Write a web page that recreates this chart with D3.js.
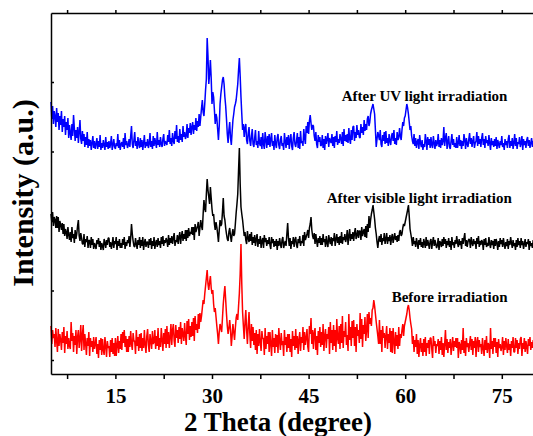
<!DOCTYPE html>
<html lang="en">
<head>
<meta charset="utf-8">
<title>XRD patterns before and after irradiation</title>
<script src="https://d3js.org/d3.v7.min.js"></script>
<style>
  body { margin: 0; background: #fff; }
  #chart1 text { font-family: "Times New Roman", "Liberation Serif", serif; font-weight: bold; fill: #000; }
  .axis path, .axis line { stroke: #000; stroke-width: 1.5; }
</style>
</head>
<body>
<div id="chart1"></div>
<script>

// 2 theta grid: scan starts at 5 degrees, one reading every 0.125 degree
const thetaStart = 5
const thetaStep = 0.125

// intensities (a.u.), one row of 8 per degree (5 .. 79, then 80)
const beforeIrradiation = [
  48,30,44,36,40,27,46,33,
  22,45,28,40,34,24,42,31,
  47,21,38,30,43,25,36,28,
  25,52,33,41,22,38,29,44,
  20,37,44,26,35,49,23,39,
  49,24,40,31,19,36,28,42,
  18,36,27,33,22,37,25,30,
  37,20,30,16,34,24,36,19,
  35,24,19,37,28,17,33,26,
  28,17,34,22,36,20,31,18,
  36,18,29,38,21,33,25,40,
  24,42,31,44,27,38,22,35,
  22,38,27,43,30,24,41,33,
  33,20,44,28,37,23,40,26,
  41,23,36,26,44,29,21,38,
  45,29,22,40,33,25,43,30,
  32,44,25,38,28,46,24,36,
  27,46,34,23,41,30,45,26,
  48,30,42,26,37,50,29,44,
  50,33,27,49,36,44,31,47,
  35,52,30,46,40,33,51,38,
  29,53,40,55,34,48,37,52,
  38,56,33,58,44,50,41,60,
  45,61,52,58,66,74,70,80,
  88,96,104,90,84,92,98,86,
  80,84,70,62,66,57,48,40,
  30,42,50,46,42,56,70,80,
  88,74,60,48,40,46,54,44,
  28,38,50,42,34,46,56,60,
  54,68,81,100,130,90,62,48,
  35,52,64,44,30,48,62,40,
  26,50,33,47,29,41,24,44,
  20,40,28,45,32,23,43,35,
  36,19,46,25,38,30,42,22,
  42,30,18,44,27,36,21,40,
  27,39,21,46,33,24,41,29,
  33,18,44,29,37,22,40,26,
  40,22,35,17,43,28,38,24,
  45,26,38,20,34,42,23,37,
  31,47,24,42,29,36,45,27,
  22,48,40,56,30,44,25,41,
  46,24,38,19,43,31,47,27,
  42,29,50,23,38,45,26,40,
  35,47,20,52,31,44,24,49,
  28,44,22,55,36,30,48,25,
  50,31,58,26,43,37,52,29,
  39,23,60,34,47,28,53,36,
  54,28,47,22,50,38,44,31,
  61,35,55,27,49,40,57,33,
  44,60,36,62,50,56,48,64,
  66,74,68,60,52,45,38,30,
  54,30,44,22,48,36,41,26,
  38,48,25,40,31,46,22,43,
  21,46,33,20,42,28,39,25,
  47,28,40,36,44,50,38,48,
  52,56,60,66,69,64,56,50,
  45,30,38,22,34,27,40,20,
  34,17,29,36,22,31,18,35,
  22,37,18,31,26,34,20,36,
  36,25,16,38,28,33,21,30,
  28,35,20,33,24,37,19,31,
  17,30,44,24,35,21,32,26,
  35,19,29,37,23,33,27,36,
  26,36,16,32,29,20,34,24,
  46,21,33,18,36,27,31,22,
  30,38,24,35,19,33,26,37,
  17,32,37,22,34,27,30,20,
  36,26,18,34,24,38,21,31,
  29,16,46,25,33,20,36,27,
  36,21,32,17,35,26,30,23,
  27,37,19,33,24,36,28,21,
  35,24,30,18,33,26,37,22,
  22,36,26,34,20,31,25,35,
  37,18,31,25,36,22,33,27,
  20,35,28,37,24,32,26,34,
  30
]

const afterVisible = [
  60,52,62,48,57,54,46,58,
  46,57,42,53,49,44,51,40,
  50,38,45,42,35,47,39,34,
  42,32,47,36,40,31,44,35,
  40,48,54,38,33,41,36,30,
  30,40,27,35,32,38,26,34,
  33,26,37,29,35,25,31,28,
  25,34,30,36,27,33,24,31,
  28,24,35,31,26,34,29,36,
  36,27,32,25,30,37,26,33,
  30,37,24,33,28,35,26,31,
  26,35,29,37,25,32,28,34,
  31,38,27,36,50,40,33,28,
  27,36,30,25,34,29,37,26,
  34,28,37,24,31,35,27,32,
  32,26,35,29,36,25,33,28,
  37,25,31,34,27,36,29,33,
  26,37,30,38,28,34,31,36,
  33,27,39,29,36,31,38,30,
  36,41,28,34,32,39,30,37,
  42,30,38,43,33,40,35,44,
  33,44,36,46,38,42,40,47,
  39,47,34,50,42,45,48,52,
  38,46,54,48,44,60,74,66,
  62,80,95,84,77,70,87,76,
  65,58,60,50,44,52,47,40,
  32,44,54,48,50,62,76,58,
  54,46,40,35,33,42,46,38,
  32,40,45,38,40,50,61,70,
  80,104,126,90,67,60,54,46,
  38,42,34,30,43,36,32,40,
  33,42,29,37,31,39,28,35,
  40,27,35,30,38,26,33,36,
  26,39,32,36,28,34,30,37,
  29,25,37,31,35,27,33,28,
  35,24,33,28,36,30,26,34,
  37,26,30,33,28,40,51,36,
  28,36,25,33,30,37,27,34,
  37,29,26,35,31,38,28,33,
  31,39,28,42,34,37,40,44,
  36,46,50,57,44,38,35,41,
  30,40,33,27,36,31,38,29,
  36,29,40,32,35,27,38,31,
  27,39,34,30,37,28,36,33,
  41,28,35,40,31,37,29,38,
  31,42,30,37,34,40,32,36,
  44,29,38,45,33,40,35,42,
  33,41,46,35,39,44,36,43,
  43,34,47,38,42,45,37,48,
  36,50,42,58,46,54,60,64,
  69,62,55,46,40,32,26,34,
  38,32,40,29,36,33,41,30,
  35,41,30,37,33,39,29,36,
  40,31,36,41,34,38,32,39,
  33,42,44,38,40,46,50,48,
  52,56,60,64,69,58,45,40,
  35,28,37,30,33,27,36,31,
  25,34,29,36,27,32,26,35,
  31,26,37,28,34,30,25,33,
  35,25,32,37,28,34,30,26,
  29,36,24,33,31,27,35,28,
  37,30,35,26,33,29,36,27,
  33,24,37,29,32,26,34,30,
  38,31,27,35,29,33,25,36,
  30,36,41,28,34,27,32,35,
  34,26,37,31,28,35,30,33,
  25,36,30,38,27,33,29,34,
  32,24,35,29,36,27,31,28,
  37,30,26,34,29,33,25,35,
  28,35,31,24,33,27,36,30,
  34,27,36,30,25,32,28,35,
  25,33,29,37,31,26,34,28,
  31,24,34,27,36,29,33,26,
  36,29,33,25,30,35,27,32,
  30,35,24,33,28,31,26,34,
  31
]

const afterUV = [
  72,55,68,50,63,58,47,66,
  52,61,44,58,49,63,42,55,
  47,58,39,52,44,56,36,49,
  41,34,50,38,59,46,33,44,
  36,47,31,42,54,35,30,43,
  33,40,27,37,29,42,26,35,
  28,34,24,31,38,26,33,25,
  30,36,25,33,27,39,24,31,
  26,34,29,24,37,27,32,25,
  33,26,30,38,24,29,35,27,
  25,31,28,40,26,34,24,30,
  32,27,36,25,41,29,33,26,
  29,35,27,38,48,30,26,34,
  42,28,33,25,37,30,26,36,
  27,34,24,31,39,26,32,28,
  35,26,30,41,27,33,25,38,
  28,36,31,26,42,29,34,27,
  37,30,27,35,40,28,33,31,
  29,39,32,44,30,36,28,41,
  33,30,43,35,49,32,38,31,
  45,34,40,32,48,37,42,35,
  38,50,36,46,41,51,39,47,
  52,40,49,44,56,43,53,47,
  60,48,57,66,74,62,58,70,
  84,95,136,118,90,100,114,96,
  70,82,77,64,50,60,56,45,
  34,48,70,80,87,94,97,90,
  77,68,55,40,31,44,52,36,
  29,42,54,60,67,70,74,82,
  90,104,116,98,77,60,44,50,
  37,46,50,34,30,41,47,33,
  28,38,45,30,27,36,44,29,
  33,26,43,31,28,37,25,41,
  30,25,42,34,26,38,29,40,
  27,35,41,28,33,24,39,30,
  26,36,40,29,25,34,38,28,
  31,24,41,33,26,37,29,39,
  25,34,40,28,24,36,42,30,
  27,33,41,26,37,25,43,31,
  33,28,45,36,30,48,41,52,
  40,53,59,51,44,49,48,38,
  33,42,30,26,39,32,37,28,
  29,39,26,35,24,38,30,35,
  41,27,36,33,31,40,28,37,
  26,38,32,43,29,35,31,40,
  35,30,42,28,45,33,39,32,
  40,31,46,35,30,44,34,47,
  48,33,42,36,49,39,44,37,
  36,50,41,47,39,54,43,50,
  44,55,58,48,52,60,64,67,
  70,65,60,44,27,35,42,38,
  34,44,30,27,39,33,42,30,
  43,31,36,28,40,33,29,38,
  41,33,44,30,36,29,42,34,
  36,46,38,34,44,52,48,56,
  58,64,70,66,60,52,44,48,
  38,33,30,40,28,36,26,32,
  35,25,39,31,27,34,24,30,
  27,40,33,24,37,29,35,26,
  37,29,26,38,31,25,34,28,
  31,40,27,34,26,36,29,33,
  47,28,36,41,25,32,38,27,
  25,33,40,29,35,27,31,26,
  37,26,31,39,28,34,25,33,
  28,40,34,25,36,30,27,35,
  41,30,36,27,33,38,26,31,
  33,42,28,38,30,35,27,36,
  41,29,35,26,38,31,34,28,
  39,31,24,36,29,33,27,35,
  28,37,25,34,30,26,33,29,
  38,27,31,24,35,29,33,26,
  35,39,26,33,28,36,25,31,
  40,28,36,25,32,30,37,27,
  31,38,24,35,29,33,26,34,
  37,28,34,26,31,36,27,33,
  32
]

// vertical stacking of the three patterns (a.u.)
const seriesOffsets = [0, 100, 200]
const seriesLabels = ["Before irradiation", "After visible light irradiation", "After UV light irradiation"]
// where each label sits: 2 theta of its left end, intensity of its baseline
const labelTheta = [57.9, 47.8, 50.15]
const labelLevel = [72.3, 171.3, 273.3]

const xTickValues = [7.5, 15, 22.5, 30, 37.5, 45, 52.5, 60, 67.5, 75]
const yTickValues = [14, 83.5, 153, 222.5, 292]

const xrdApp = {}

xrdApp.buildChart = () => {

    d3.select('#chart1').html('')

    var margin = {top: 13, right: 0, bottom: 62, left: 51},
        width = 483,
        height = 361;

    var svg = d3.select("#chart1")
      .append("svg")
        .attr("width", 533)
        .attr("height", 436)
      .append("g")
        .attr("transform", "translate(" + margin.left + "," + margin.top + ")");

    var x = d3.scaleLinear()
        .domain([5, 80])
        .range([0, width]);

    var y = d3.scaleLinear()
        .domain([0, 361])
        .range([height, 0]);

    var colors = ["#ff0000", "#000000", "#0000ff"];
    var allSeries = [beforeIrradiation, afterVisible, afterUV];

    var line = d3.line()
        .x(function(d) { return x(d.t); })
        .y(function(d) { return y(d.v); });

    allSeries.forEach(function(values, k) {
        var pts = values.map(function(v, i) {
            return {t: thetaStart + i * thetaStep, v: v + seriesOffsets[k]};
        });
        svg.append("path")
            .datum(pts)
            .attr("fill", "none")
            .attr("stroke", colors[k])
            .attr("stroke-width", 1.5)
            .attr("stroke-linejoin", "bevel")
            .attr("d", line);
    });

    // labels next to each pattern
    seriesLabels.forEach(function(lab, k) {
        svg.append("text")
            .attr("x", x(labelTheta[k]))
            .attr("y", y(labelLevel[k]))
            .style("font-size", "15px")
            .text(lab);
    });

    // axes
    svg.append("g")
        .attr("class", "axis")
        .attr("transform", "translate(0," + height + ")")
        .call(d3.axisBottom(x)
            .tickValues(xTickValues)
            .tickSize(5)
            .tickSizeOuter(0)
            .tickPadding(9)
            .tickFormat(function(d) { return d % 15 === 0 ? d : ""; }))
        .selectAll("text")
            .style("font-size", "21px");

    svg.append("g")
        .attr("class", "axis")
        .call(d3.axisTop(x)
            .tickValues(xTickValues)
            .tickSize(3)
            .tickSizeOuter(0)
            .tickFormat(""));

    svg.append("g")
        .attr("class", "axis")
        .call(d3.axisLeft(y)
            .tickValues(yTickValues)
            .tickSize(-3)
            .tickSizeOuter(0)
            .tickFormat(""));

    // axis titles
    svg.append("text")
        .attr("x", 278 - margin.left)
        .attr("y", 431 - margin.top)
        .attr("text-anchor", "middle")
        .style("font-size", "27px")
        .text("2 Theta (degree)");

    svg.append("text")
        .attr("transform", "translate(" + (33 - margin.left) + "," + (193 - margin.top) + ") rotate(-90)")
        .attr("text-anchor", "middle")
        .style("font-size", "30px")
        .text("Intensity (a.u.)");
}

xrdApp.init = () => {
    xrdApp.buildChart()
}
xrdApp.init()

</script>
</body>
</html>
